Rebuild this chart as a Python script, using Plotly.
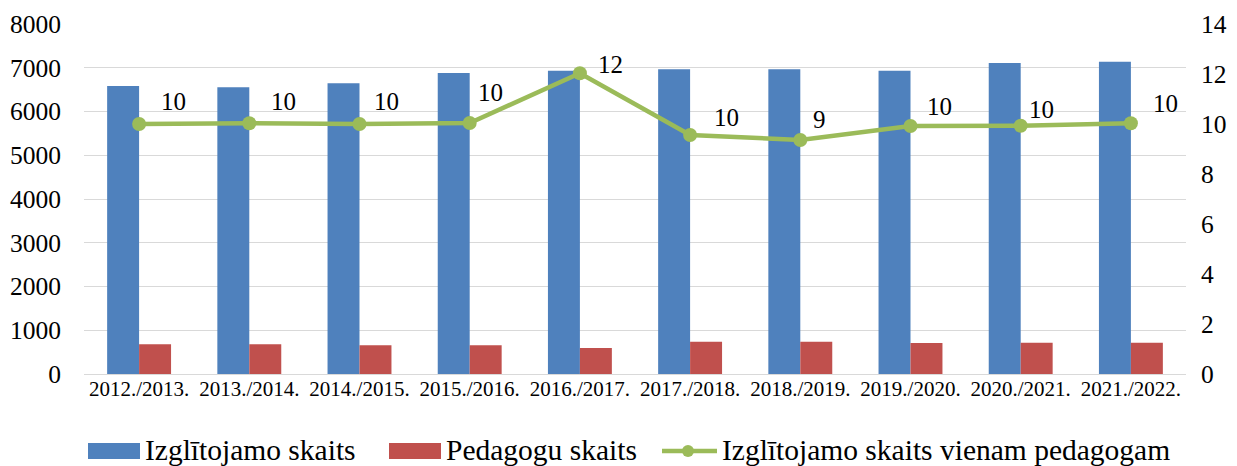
import plotly.graph_objects as go

years = ["2012./2013.", "2013./2014.", "2014./2015.", "2015./2016.", "2016./2017.",
         "2017./2018.", "2018./2019.", "2019./2020.", "2020./2021.", "2021./2022."]
students = [6583, 6553, 6645, 6880, 6933, 6965, 6965, 6933, 7109, 7139]
teachers = [680, 680, 655, 655, 595, 740, 740, 710, 712, 715]
ratio = [10.0, 10.03, 10.0, 10.04, 12.03, 9.56, 9.36, 9.92, 9.93, 10.03]

series_names = ["Izglītojamo skaits", "Pedagogu skaits",
                "Izglītojamo skaits vienam pedagogam"]
colors = ["#4F81BD", "#C0504D", "#9BBB59"]

FONT = "Liberation Serif"

# page offset of the figure (browser default body margin)
OFF = 8
W, H = 1237 - OFF, 466 - OFF
PL, PR, PT, PB = 84, 1186, 24, 374  # plot area in page pixels


def px_x(p):
    return (p - PL) / (PR - PL)


def px_y(p):
    return (PB - p) / (PB - PT)


fig = go.Figure()
fig.add_trace(go.Bar(x=years, y=students, name=series_names[0], showlegend=False,
                     marker=dict(color=colors[0], line=dict(width=0))))
fig.add_trace(go.Bar(x=years, y=teachers, name=series_names[1], showlegend=False,
                     marker=dict(color=colors[1], line=dict(width=0))))
fig.add_trace(go.Scatter(x=years, y=ratio, name=series_names[2], showlegend=False,
                         yaxis="y2", mode="lines+markers", cliponaxis=False,
                         line=dict(color=colors[2], width=4.5),
                         marker=dict(color=colors[2], size=14)))

# data label placement offsets (pixels)
label_shift = [(34, 23), (34, 22), (27, 23), (21, 31), (31, 9),
               (36, 18), (19, 21), (29, 20), (21, 16), (35, 20)]
for (yr, v), (dx, dy) in zip(zip(years, ratio), label_shift):
    fig.add_annotation(x=yr, y=v, yref="y2", xref="x", text=f"{v:.0f}",
                       showarrow=False, xshift=dx, yshift=dy,
                       font=dict(family=FONT, size=25, color="#000"))

# custom legend (Excel-like wide swatches)
LY = 451
shapes = [
    dict(type="rect", xref="paper", yref="paper", x0=px_x(88), x1=px_x(140),
         y0=px_y(459), y1=px_y(443), fillcolor=colors[0], line=dict(width=0)),
    dict(type="rect", xref="paper", yref="paper", x0=px_x(389), x1=px_x(441),
         y0=px_y(459), y1=px_y(443), fillcolor=colors[1], line=dict(width=0)),
    dict(type="line", xref="paper", yref="paper", x0=px_x(662), x1=px_x(717),
         y0=px_y(LY), y1=px_y(LY), line=dict(color=colors[2], width=4.5)),
    dict(type="circle", xref="paper", yref="paper", x0=px_x(682), x1=px_x(694),
         y0=px_y(457), y1=px_y(445), fillcolor=colors[2], line=dict(width=0)),
]
for i, x0 in enumerate([143, 444, 720]):
    fig.add_annotation(xref="paper", yref="paper", x=px_x(x0), y=px_y(LY - 1),
                       xanchor="left", yanchor="middle", showarrow=False,
                       text=series_names[i],
                       font=dict(family=FONT, size=29.5, color="#000"))

fig.update_layout(
    width=W, height=H,
    margin=dict(l=PL - OFF, r=W - (PR - OFF), t=PT - OFF, b=H - (PB - OFF),
                autoexpand=False),
    paper_bgcolor="white", plot_bgcolor="white",
    barmode="group", bargap=0.42, bargroupgap=0,
    font=dict(family=FONT, color="#000"),
    shapes=shapes,
    showlegend=False,
    xaxis=dict(tickfont=dict(size=21, family=FONT), showline=False,
               range=[-0.5, len(years) - 0.5], autorange=False,
               ticks="", showgrid=False, automargin=False),
    yaxis=dict(range=[0, 8000], dtick=1000, tickfont=dict(size=25.5, family=FONT),
               gridcolor="#D9D9D9", gridwidth=1.3, zeroline=True,
               zerolinecolor="#D9D9D9", zerolinewidth=1.3, showline=False,
               ticklabelstandoff=22, automargin=False),
    yaxis2=dict(range=[0, 14], dtick=2, overlaying="y", side="right",
                tickfont=dict(size=25.5, family=FONT), showgrid=False,
                zeroline=False, showline=False, ticklabelstandoff=14,
                automargin=False),
)

fig.write_html("out.html")
